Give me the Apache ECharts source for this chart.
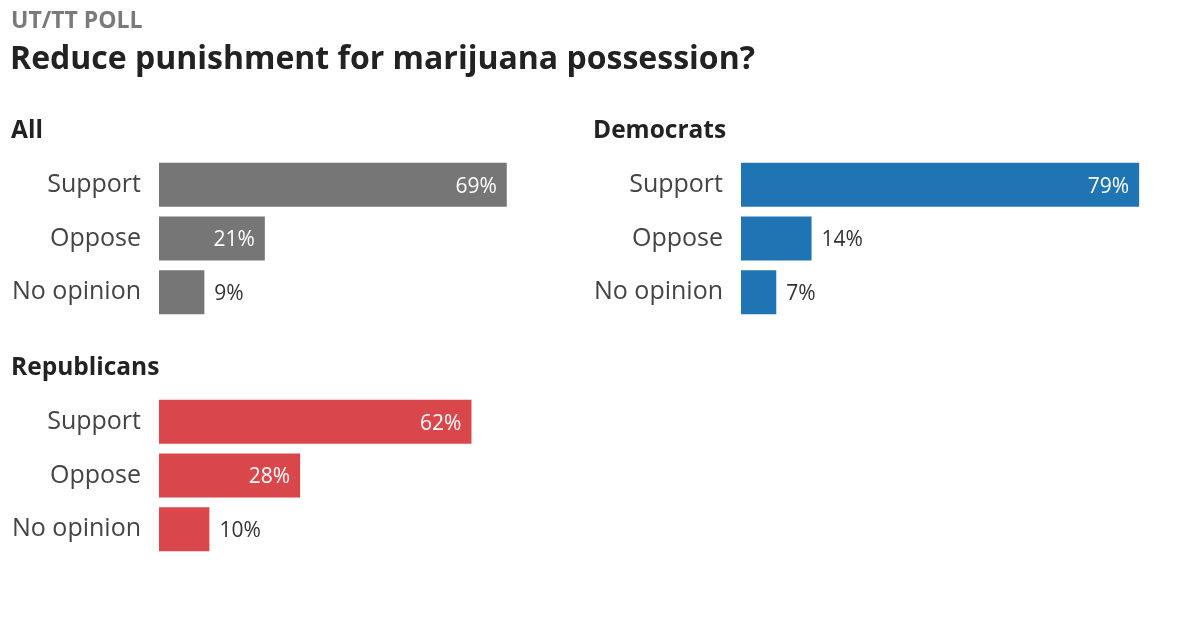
<!DOCTYPE html>
<html>
<head>
  <meta charset="utf-8">
  <title>UT/TT Poll</title>
  <style>
    html, body { margin: 0; padding: 0; background: #fff; }
    #chart { width: 1200px; height: 618px; }
  </style>
</head>
<body>
  <div id="chart"></div>
  <script src="https://cdn.jsdelivr.net/npm/echarts@6/dist/echarts.min.js"></script>
  <script>
    // answers, same for every group
    var categories = ['Support', 'Oppose', 'No opinion'];

    var allValues = [69, 21, 9];
    var demValues = [79, 14, 7];
    var repValues = [62, 28, 10];

    var groupNames = ['All', 'Democrats', 'Republicans'];

    var FONT = '"Open Sans", "Noto Sans", sans-serif';
    var colors = ['#767676', '#1f74b3', '#d9474a'];

    // where each small chart goes (about 5.04px per percent)
    var panels = [
      { left: 159, top: 158, values: allValues },
      { left: 741, top: 158, values: demValues },
      { left: 159, top: 395, values: repValues }
    ];
    var headPos = [
      { left: 6, top: 114 },
      { left: 588, top: 114 },
      { left: 6, top: 351 }
    ];

    var chart = echarts.init(document.getElementById('chart'));

    var grids = [], xAxes = [], yAxes = [], series = [];
    panels.forEach(function (p, i) {
      grids.push({ left: p.left, top: p.top, width: 441, height: 161 });
      xAxes.push({
        type: 'value', gridIndex: i, min: 0, max: 87.5,
        show: false, splitLine: { show: false }
      });
      yAxes.push({
        type: 'category', gridIndex: i, inverse: true, data: categories,
        axisLine: { show: false }, axisTick: { show: false },
        axisLabel: { color: '#444', fontFamily: FONT, fontSize: 25, margin: 18 }
      });
      series.push({
        type: 'bar', xAxisIndex: i, yAxisIndex: i, barWidth: 44,
        itemStyle: { color: colors[i] },
        silent: true,
        data: p.values.map(function (v) {
          var inside = v >= 20;
          return {
            value: v,
            label: {
              show: true,
              position: inside ? 'insideRight' : 'right',
              distance: 10,
              offset: [0, 2],
              color: inside ? '#fff' : '#333',
              fontFamily: FONT,
              fontSize: 21,
              formatter: '{c}%'
            }
          };
        })
      });
    });

    var titles = [
      {
        text: 'UT/TT POLL', left: 6, top: 5,
        textStyle: { color: '#7a7a7a', fontFamily: FONT, fontSize: 23, fontWeight: 'bold' }
      },
      {
        text: 'Reduce punishment for marijuana possession?', left: 5, top: 39,
        textStyle: { color: '#222', fontFamily: FONT, fontSize: 32, fontWeight: 'bold' }
      }
    ];
    groupNames.forEach(function (name, i) {
      titles.push({
        text: name, left: headPos[i].left, top: headPos[i].top,
        textStyle: { color: '#222', fontFamily: FONT, fontSize: 24.5, fontWeight: 'bold' }
      });
    });

    chart.setOption({
      backgroundColor: '#fff',
      animation: false,
      title: titles,
      grid: grids,
      xAxis: xAxes,
      yAxis: yAxes,
      series: series
    });
    window.addEventListener('resize', chart.resize);
  </script>
</body>
</html>
